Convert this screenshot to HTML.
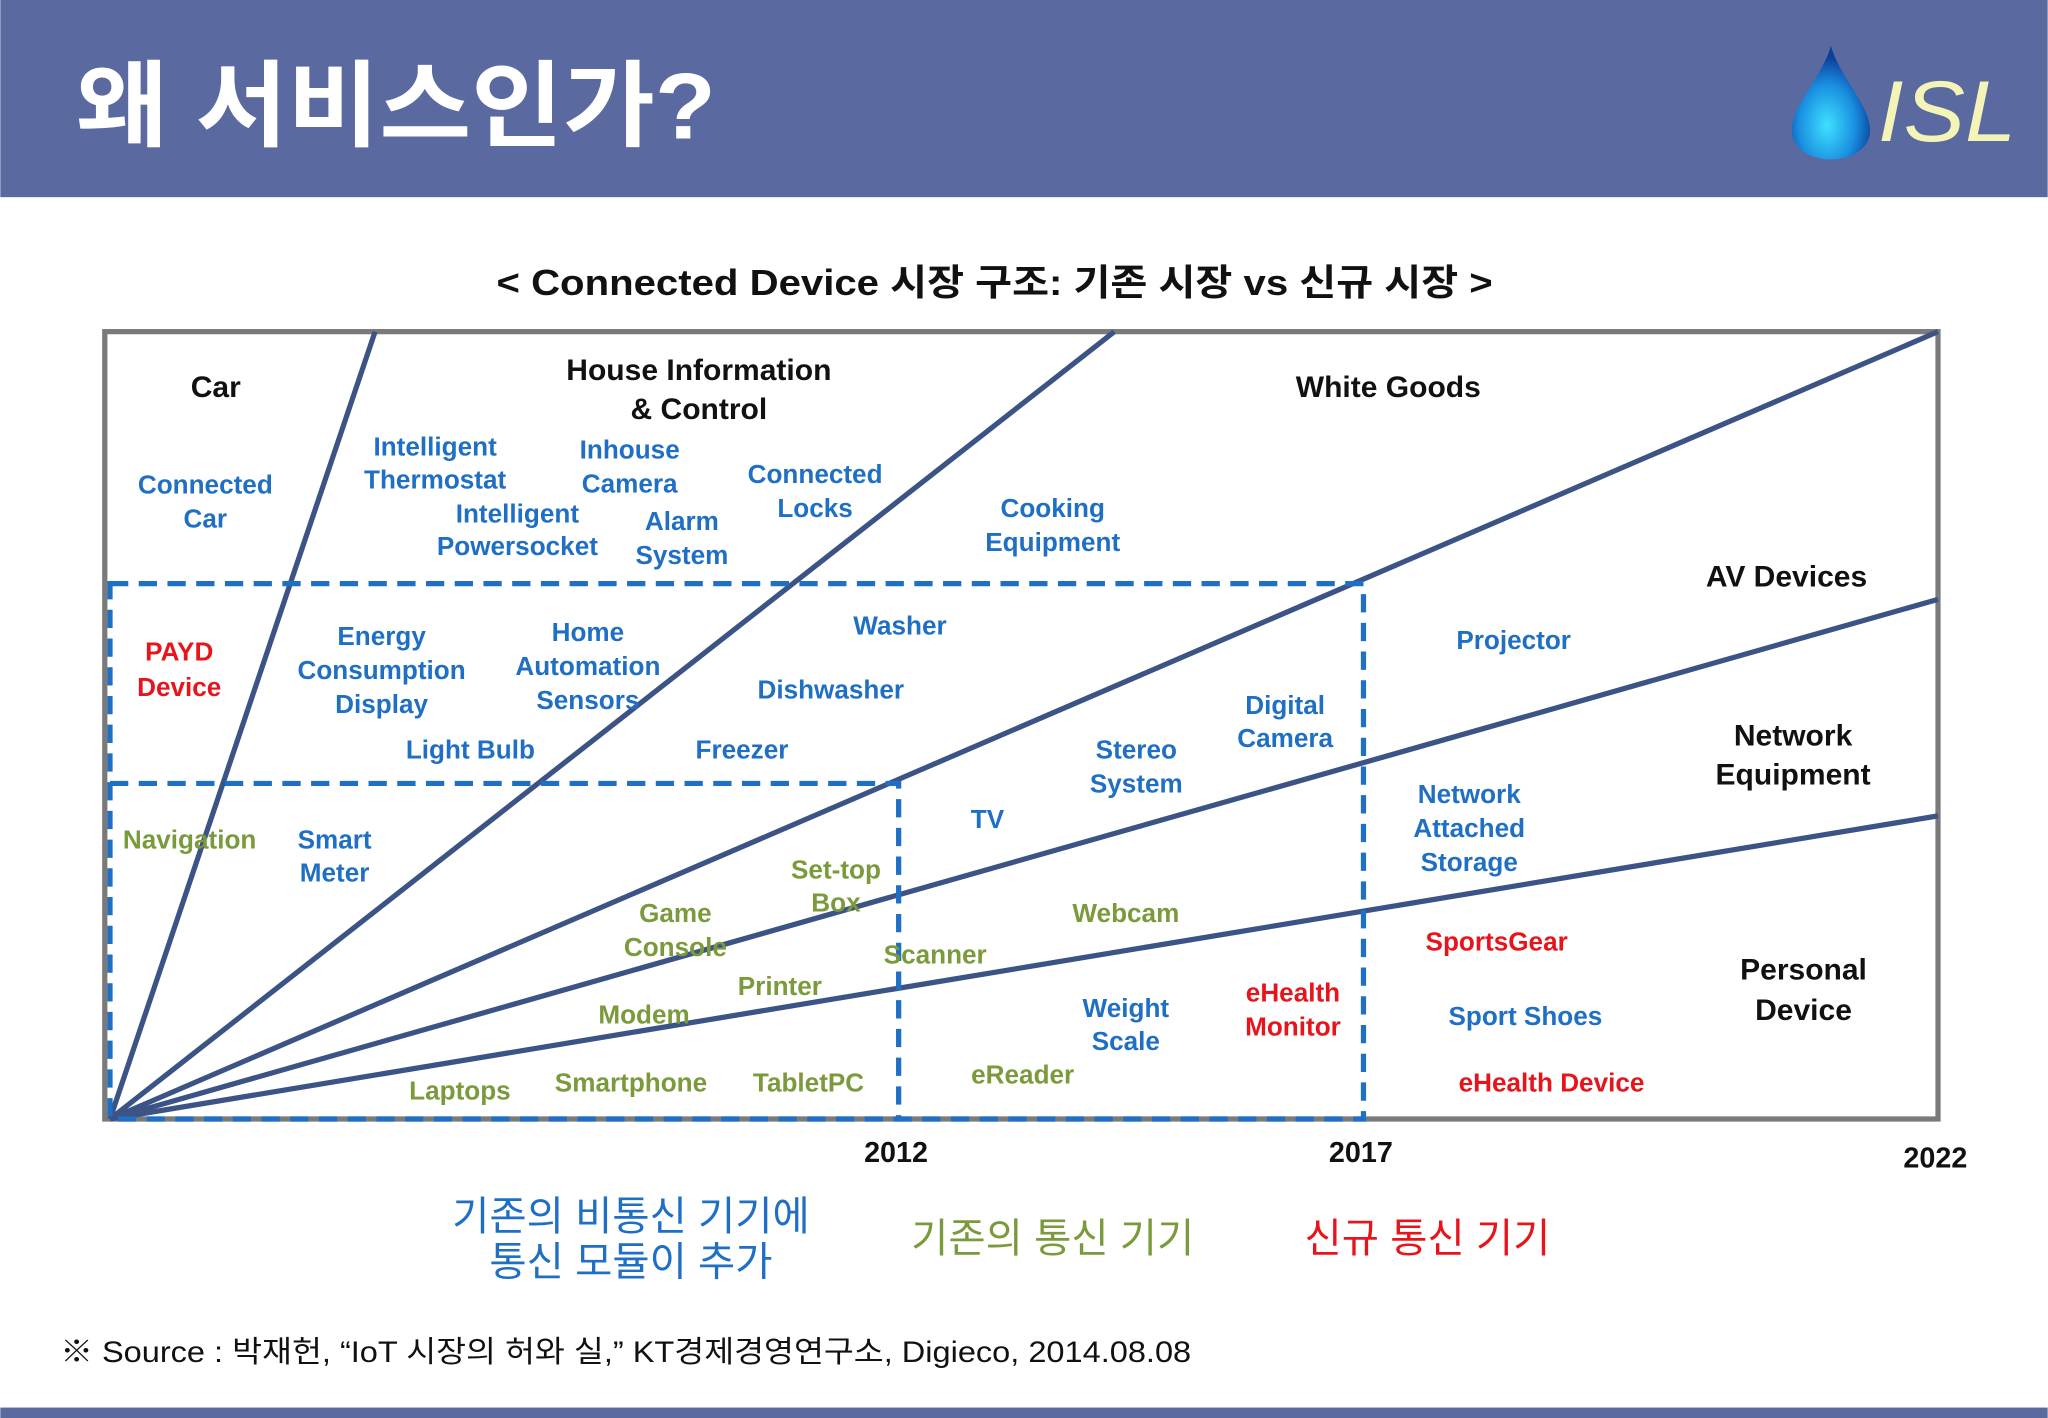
<!DOCTYPE html>
<html><head><meta charset="utf-8">
<style>
html,body{margin:0;padding:0;background:#fff;}
svg{display:block;}
text{font-family:"Liberation Sans","Noto Sans CJK KR",sans-serif;}
.b{fill:#1f6fc4;font-size:20px;font-weight:bold;text-anchor:middle;}
.g{fill:#7b9a3c;font-size:20px;font-weight:bold;text-anchor:middle;}
.r{fill:#e8141c;font-size:20px;font-weight:bold;text-anchor:middle;}
.k{fill:#111;font-size:23px;font-weight:bold;text-anchor:middle;}
</style></head>
<body>
<svg id="chart" width="2048" height="1418" viewBox="0 0 1568 1086">
<defs>
<radialGradient id="drop" cx="0.45" cy="0.7" r="0.6">
<stop offset="0" stop-color="#3ee0ff"/><stop offset="0.6" stop-color="#1a8fe0"/><stop offset="1" stop-color="#0a3f9a"/>
</radialGradient>
</defs>
<rect x="0" y="0" width="1568" height="151" fill="#5a69a0"/>
<text x="58" y="106" fill="#fff" font-size="72" font-weight="bold" textLength="490" lengthAdjust="spacingAndGlyphs">왜 서비스인가?</text>
<g>
<path d="M1402,35 C1395,60 1372,80 1372,100 C1372,113 1385,122 1402,122 C1419,122 1432,113 1432,100 C1432,80 1409,60 1402,35 Z" fill="url(#drop)"/>
<text x="1438" y="108" fill="#f4f4b8" font-size="66" font-style="italic" textLength="106" lengthAdjust="spacingAndGlyphs">ISL</text>
</g>
<text x="380" y="226" font-size="28" font-weight="bold" fill="#111" textLength="763" lengthAdjust="spacingAndGlyphs">&lt; Connected Device 시장 구조: 기존 시장 vs 신규 시장 &gt;</text>

<rect x="80" y="254" width="1404" height="603" fill="none" stroke="#7a7a7a" stroke-width="4"/>
<g id="rays" stroke="#3b5485" stroke-width="4"></g>
<g fill="none" stroke="#1f6fc4" stroke-width="4" stroke-dasharray="14,8">
<path d="M84,447 H1044 V857 H84 Z"/>
<path d="M84,600 H688 V857"/>
</g>

<g>
<text class="k" x="165" y="304">Car</text>
<text class="k" x="535" y="291">House Information</text>
<text class="k" x="535" y="321">&amp; Control</text>
<text class="k" x="1063" y="304">White Goods</text>
<text class="k" x="1368" y="449">AV Devices</text>
<text class="k" x="1373" y="571">Network</text>
<text class="k" x="1373" y="601">Equipment</text>
<text class="k" x="1381" y="750">Personal</text>
<text class="k" x="1381" y="781">Device</text>
</g>
<g>
<text class="b" x="157" y="378">Connected</text><text class="b" x="157" y="404">Car</text>
<text class="b" x="333" y="349">Intelligent</text><text class="b" x="333" y="374">Thermostat</text>
<text class="b" x="482" y="351">Inhouse</text><text class="b" x="482" y="377">Camera</text>
<text class="b" x="396" y="400">Intelligent</text><text class="b" x="396" y="425">Powersocket</text>
<text class="b" x="522" y="406">Alarm</text><text class="b" x="522" y="432">System</text>
<text class="b" x="624" y="370">Connected</text><text class="b" x="624" y="396">Locks</text>
<text class="b" x="806" y="396">Cooking</text><text class="b" x="806" y="422">Equipment</text>
<text class="r" x="137" y="506">PAYD</text><text class="r" x="137" y="533">Device</text>
<text class="b" x="292" y="494">Energy</text><text class="b" x="292" y="520">Consumption</text><text class="b" x="292" y="546">Display</text>
<text class="b" x="450" y="491">Home</text><text class="b" x="450" y="517">Automation</text><text class="b" x="450" y="543">Sensors</text>
<text class="b" x="689" y="486">Washer</text>
<text class="b" x="636" y="535">Dishwasher</text>
<text class="b" x="360" y="581">Light Bulb</text>
<text class="b" x="568" y="581">Freezer</text>
<text class="b" x="870" y="581">Stereo</text><text class="b" x="870" y="607">System</text>
<text class="b" x="984" y="547">Digital</text><text class="b" x="984" y="572">Camera</text>
<text class="b" x="1159" y="497">Projector</text>
<text class="b" x="1125" y="615">Network</text><text class="b" x="1125" y="641">Attached</text><text class="b" x="1125" y="667">Storage</text>
<text class="b" x="756" y="634">TV</text>
<text class="g" x="145" y="650">Navigation</text>
<text class="b" x="256" y="650">Smart</text><text class="b" x="256" y="675">Meter</text>
<text class="g" x="640" y="673">Set-top</text><text class="g" x="640" y="698">Box</text>
<text class="g" x="517" y="706">Game</text><text class="g" x="517" y="732">Console</text>
<text class="g" x="862" y="706">Webcam</text>
<text class="g" x="716" y="738">Scanner</text>
<text class="g" x="597" y="762">Printer</text>
<text class="g" x="493" y="784">Modem</text>
<text class="b" x="862" y="779">Weight</text><text class="b" x="862" y="804">Scale</text>
<text class="r" x="990" y="767">eHealth</text><text class="r" x="990" y="793">Monitor</text>
<text class="r" x="1146" y="728">SportsGear</text>
<text class="b" x="1168" y="785">Sport Shoes</text>
<text class="r" x="1188" y="836">eHealth Device</text>
<text class="g" x="352" y="842">Laptops</text>
<text class="g" x="483" y="836">Smartphone</text>
<text class="g" x="619" y="836">TabletPC</text>
<text class="g" x="783" y="830">eReader</text>
</g>
<g id="xaxis"></g>

<g>
<text x="483" y="942" text-anchor="middle" font-size="31" fill="#1f6fc4">기존의 비통신 기기에</text>
<text x="483" y="977" text-anchor="middle" font-size="31" fill="#1f6fc4">통신 모듈이 추가</text>
<text x="806" y="959" text-anchor="middle" font-size="31" fill="#7b9a3c">기존의 통신 기기</text>
<text x="1093" y="959" text-anchor="middle" font-size="31" fill="#e8141c">신규 통신 기기</text>
</g>
<text x="46" y="1043" font-size="23" fill="#111" textLength="866" lengthAdjust="spacingAndGlyphs">※ Source : 박재헌, “IoT 시장의 허와 실,” KT경제경영연구소, Digieco, 2014.08.08</text>
<rect x="0" y="1078" width="1568" height="8" fill="#5a69a0"/>
</svg>
<script>
const yearLabels = ["2012","2017","2022"];
const yearPos = [2012,2017,2022];
// ray end points in data terms: end year and height % of frame
const rayEndX = [2006.37,2014.32,2022,2022,2022];
const rayEndY = [100,100,100,66,38.5];
const yStart = 2003.52;
const yearDom = [yStart,2012,2017,2022];
const yearPx = [84,688,1044,1484];
const y0=857,y1=254;
function sx(v){
  for(let i=0;i<yearDom.length-1;i++){
    if(v<=yearDom[i+1]||i===yearDom.length-2){
      return yearPx[i]+(v-yearDom[i])/(yearDom[i+1]-yearDom[i])*(yearPx[i+1]-yearPx[i]);
    }
  }
}
const sy = v => y0 - v/100*(y0-y1);
const ns="http://www.w3.org/2000/svg";
const rays=document.getElementById('rays');
rayEndX.forEach((v,i)=>{
  const l=document.createElementNS(ns,'line');
  
  
  l.setAttribute('x1',84);l.setAttribute('y1',y0);
  l.setAttribute('x2',sx(v));l.setAttribute('y2',sy(rayEndY[i]));
  rays.appendChild(l);
});
const ax=document.getElementById('xaxis');
const yOff=[890,890,894];
yearLabels.forEach((t,i)=>{
  const e=document.createElementNS(ns,'text');
  
  
  e.setAttribute('x',sx(yearPos[i])-2);e.setAttribute('y',yOff[i]);
  e.setAttribute('text-anchor','middle');e.setAttribute('font-size','22');
  e.setAttribute('font-weight','bold');e.setAttribute('fill','#111');
  e.textContent=t;ax.appendChild(e);
});
</script>
</body></html>
